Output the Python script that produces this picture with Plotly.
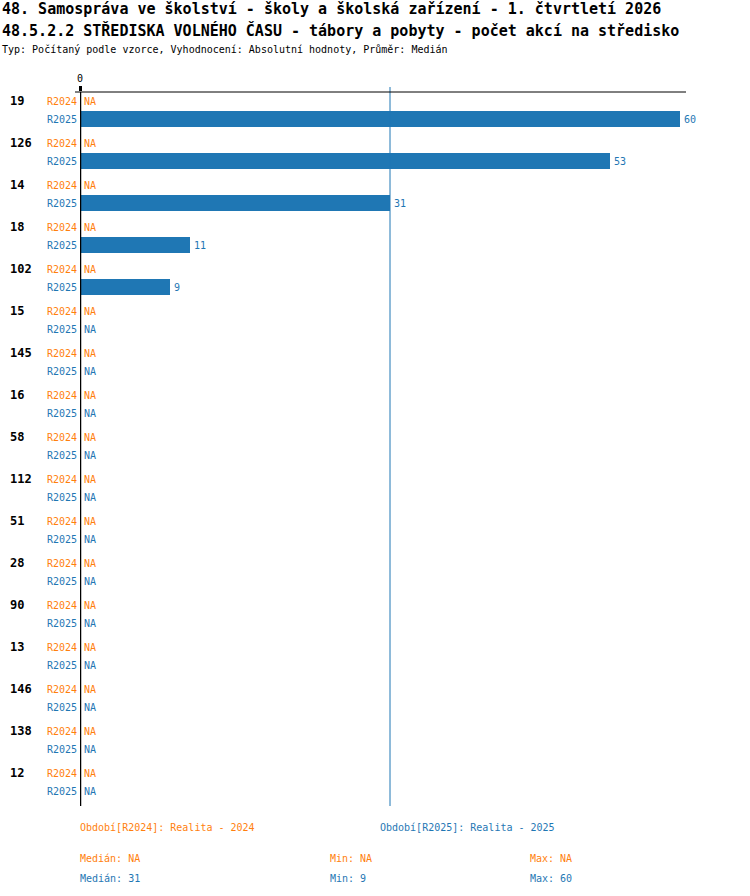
import numpy as np
import plotly.graph_objects as go

# data
kategorie = ["19", "126", "14", "18", "102", "15", "145", "16", "58",
             "112", "51", "28", "90", "13", "146", "138", "12"]
obdobi = ["R2024", "R2025"]
hodnoty_2024 = [None] * 17
hodnoty_2025 = [60, 53, 31, 11, 9] + [None] * 12
barvy = ["#ff7f0e", "#1f77b4"]
popisky_obdobi = ["Období[R2024]: Realita - 2024", "Období[R2025]: Realita - 2025"]

titulek1 = "48. Samospráva ve školství - školy a školská zařízení - 1. čtvrtletí 2026"
titulek2 = "48.5.2.2 STŘEDISKA VOLNÉHO ČASU - tábory a pobyty - počet akcí na středisko"
podtitulek = "Typ: Počítaný podle vzorce, Vyhodnocení: Absolutní hodnoty, Průměr: Medián"

FONT = "DejaVu Sans Mono"

# plot area in pixels (750x896 page)
L, R, T, B = 80, 686, 92, 806
def px_x(x):
    return (x - L) / (R - L)
def px_y(y):
    return (B - y) / (B - T)

fig = go.Figure()
serie = [hodnoty_2024, hodnoty_2025]
for s, (nazev, vals, barva) in enumerate(zip(obdobi, serie, barvy)):
    ypos = [7 * i + 3 * s for i in range(len(kategorie))]
    fig.add_trace(go.Bar(
        x=[v if v is not None else 0 for v in vals], y=ypos, orientation="h",
        marker=dict(color=barva, line=dict(width=0)), width=2.67,
        name=nazev, hoverinfo="skip"))
    for i in range(len(kategorie)):
        v = vals[i]
        # hodnota / NA za koncem sloupce
        fig.add_annotation(x=v if v is not None else 0, xref="x", y=ypos[i], yref="y",
                           text=str(v) if v is not None else "NA", showarrow=False,
                           xanchor="left", xshift=2,
                           font=dict(family=FONT, size=10, color=barva))
        fig.add_annotation(x=0, xref="paper", y=ypos[i], yref="y",
                           text=nazev, showarrow=False, xanchor="right",
                           xshift=-1, font=dict(family=FONT, size=10, color=barva))

for i, k in enumerate(kategorie):
    fig.add_annotation(x=px_x(8), xref="paper", y=7 * i, yref="y", text="<b>%s</b>" % k,
                       showarrow=False, xanchor="left",
                       font=dict(family=FONT, size=12, color="black"))

# median line for R2025
platne = [v for v in hodnoty_2025 if v is not None]
median = float(np.median(platne))
fig.add_shape(type="line", xref="x", yref="paper", x0=median, x1=median,
              y0=0, y1=px_y(87), line=dict(color="#1f77b4", width=1))
# axes lines
fig.add_shape(type="line", xref="paper", yref="paper", x0=px_x(75), x1=1,
              y0=1, y1=1, line=dict(color="black", width=1))
fig.add_shape(type="line", xref="x", yref="paper", x0=0, x1=0,
              y0=0, y1=1, line=dict(color="black", width=2.5))

# titles
for txt, y, size, bold in [(titulek1, 9, 15, True), (titulek2, 30, 15, True),
                           (podtitulek, 50, 10, False)]:
    fig.add_annotation(x=px_x(0), xref="paper", y=px_y(y), yref="paper",
                       text="<b>%s</b>" % txt if bold else txt, showarrow=False,
                       xanchor="left", yanchor="middle",
                       font=dict(family=FONT, size=size, color="black"))

# footer
def fmt(v):
    return "NA" if v is None else "%g" % v
for s, (vals, barva, popis) in enumerate(zip(serie, barvy, popisky_obdobi)):
    platne = [v for v in vals if v is not None]
    med = float(np.median(platne)) if platne else None
    mn = min(platne) if platne else None
    mx = max(platne) if platne else None
    fig.add_annotation(x=px_x(78 + 300 * s), xref="paper", y=px_y(828), yref="paper",
                       text=popis, showarrow=False, xanchor="left", yanchor="middle",
                       font=dict(family=FONT, size=10, color=barva))
    for txt, xx in [("Medián: " + fmt(med), 78), ("Min: " + fmt(mn), 328),
                    ("Max: " + fmt(mx), 528)]:
        fig.add_annotation(x=px_x(xx), xref="paper", y=px_y(858 + 20 * s), yref="paper",
                           text=txt, showarrow=False, xanchor="left", yanchor="middle",
                           font=dict(family=FONT, size=10, color=barva))

fig.update_layout(
    width=750, height=896,
    margin=dict(l=L, r=750 - R, t=T, b=896 - B),
    paper_bgcolor="white", plot_bgcolor="white",
    showlegend=False, bargap=0,
    xaxis=dict(range=[0, (R - L) / 10], side="top", tickvals=[0], ticktext=["0"],
               showgrid=False, zeroline=False, showline=False,
               ticks="outside", ticklen=5, tickwidth=2.5, tickcolor="black",
               tickfont=dict(family=FONT, size=10, color="black"), fixedrange=True),
    yaxis=dict(range=[117.5, -1.5], showticklabels=False, showgrid=False,
               zeroline=False, ticks="", fixedrange=True),
)

fig.write_html("out.html", config={"displayModeBar": False},
               post_script="document.body.style.margin='0px';")
